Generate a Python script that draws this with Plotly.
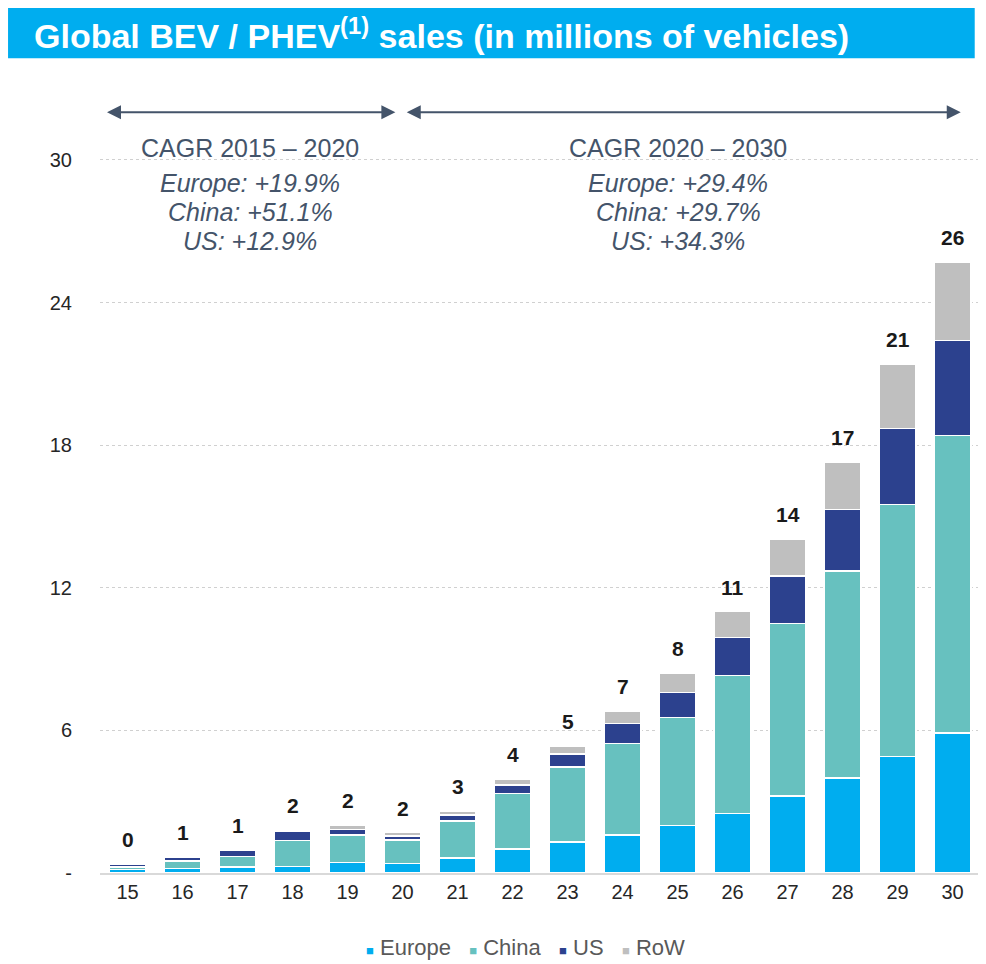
import plotly.graph_objects as go

years = ["15", "16", "17", "18", "19", "20", "21", "22", "23", "24", "25", "26", "27", "28", "29", "30"]
europe = [0.15, 0.20, 0.25, 0.27, 0.44, 0.40, 0.63, 1.00, 1.30, 1.60, 2.00, 2.50, 3.25, 4.00, 4.90, 5.90]
china = [0.10, 0.30, 0.45, 1.10, 1.16, 0.98, 1.56, 2.35, 3.15, 3.85, 4.55, 5.80, 7.25, 8.70, 10.60, 12.50]
us = [0.12, 0.15, 0.25, 0.40, 0.23, 0.17, 0.24, 0.35, 0.55, 0.85, 1.05, 1.60, 2.00, 2.60, 3.20, 4.00]
row = [0.02, 0.03, 0.02, 0.03, 0.17, 0.15, 0.17, 0.25, 0.35, 0.50, 0.80, 1.10, 1.55, 2.00, 2.70, 3.30]
total_labels = ["0", "1", "1", "2", "2", "2", "3", "4", "5", "7", "8", "11", "14", "17", "21", "26"]

y_ticks = [0, 6, 12, 18, 24, 30]
y_tick_text = ["-", "6", "12", "18", "24", "30"]

cagr_blocks = [
    ("CAGR 2015 – 2020", ["Europe: +19.9%", "China: +51.1%", "US: +12.9%"]),
    ("CAGR 2020 – 2030", ["Europe: +29.4%", "China: +29.7%", "US: +34.3%"]),
]

series = [
    ("Europe", europe, "#00ADEF"),
    ("China", china, "#67C1BF"),
    ("US", us, "#2C418E"),
    ("RoW", row, "#BFBFBF"),
]

FONT = "Liberation Sans, Arial"

fig = go.Figure()
for name, vals, color in series:
    fig.add_trace(go.Bar(
        x=years, y=vals, name=name,
        marker=dict(color=color, line=dict(color="white", width=1.5)),
    ))

# totals above the stacks
totals = [e + c + u + r for e, c, u, r in zip(europe, china, us, row)]
for i, (t, lab) in enumerate(zip(totals, total_labels)):
    fig.add_annotation(x=i, y=t, text="<b>%s</b>" % lab, showarrow=False,
                       yanchor="bottom", yshift=11,
                       font=dict(family=FONT, size=21, color="#1a1a1a"))

# title banner
fig.add_shape(type="rect", xref="paper", yref="paper",
              x0=-0.1045, x1=0.994, y0=1.054, y1=1.119,
              fillcolor="#00ADEF", line=dict(width=0), layer="above")
fig.add_annotation(xref="paper", yref="paper", x=-0.077, y=1.0865,
                   xanchor="left", yanchor="middle", showarrow=False,
                   text="<b>Global BEV / PHEV<sup>(1)</sup> sales (in millions of vehicles)</b>",
                   font=dict(family=FONT, size=34, color="white"))

# period arrows
arrow_col = "#44546A"
for x0, x1 in [(-0.4, 4.87), (5.05, 15.15)]:
    fig.add_annotation(x=x1, y=32, ax=x0, ay=32, xref="x", yref="y", axref="x", ayref="y",
                       text="", showarrow=True, arrowside="end+start",
                       arrowhead=2, arrowsize=1.4, arrowwidth=2, arrowcolor=arrow_col)

# CAGR text blocks
line_y = [30.5, 29.03, 27.8, 26.6]
for xc, (head, lines) in zip([0.171, 0.657], cagr_blocks):
    texts = [head] + ["<i>%s</i>" % l for l in lines]
    for yv, txt in zip(line_y, texts):
        fig.add_annotation(xref="paper", yref="y", x=xc, y=yv, xanchor="center", yanchor="middle",
                           showarrow=False, text=txt,
                           font=dict(family=FONT, size=25, color="#44546A"))

# legend drawn as a text row
legend_txt = "   ".join(
    "<span style='color:%s;font-size:13px'>■</span> %s" % (c, n) for n, _, c in series)
fig.add_annotation(xref="paper", yref="paper", x=0.483, y=-0.097, xanchor="center",
                   yanchor="middle", showarrow=False, text=legend_txt,
                   font=dict(family=FONT, size=22, color="#595959"))

fig.update_layout(
    width=986, height=964,
    margin=dict(l=92, r=14, t=92, b=99),
    barmode="stack", bargap=0.33,
    paper_bgcolor="white", plot_bgcolor="white",
    font=dict(family=FONT, color="#262626"),
    showlegend=False,
)
fig.update_xaxes(type="category", range=[-0.5, 15.5], showline=True, linecolor="#D9D9D9",
                 linewidth=2, ticks="", tickfont=dict(size=20, color="#262626"), showgrid=False)
fig.update_yaxes(range=[0, 32.52], tickvals=y_ticks, ticktext=y_tick_text,
                 showgrid=True, gridcolor="#D0D0D0", griddash="dot", gridwidth=1,
                 zeroline=False, tickfont=dict(size=20, color="#262626"), ticklabelstandoff=27)

fig.write_html("out.html")
